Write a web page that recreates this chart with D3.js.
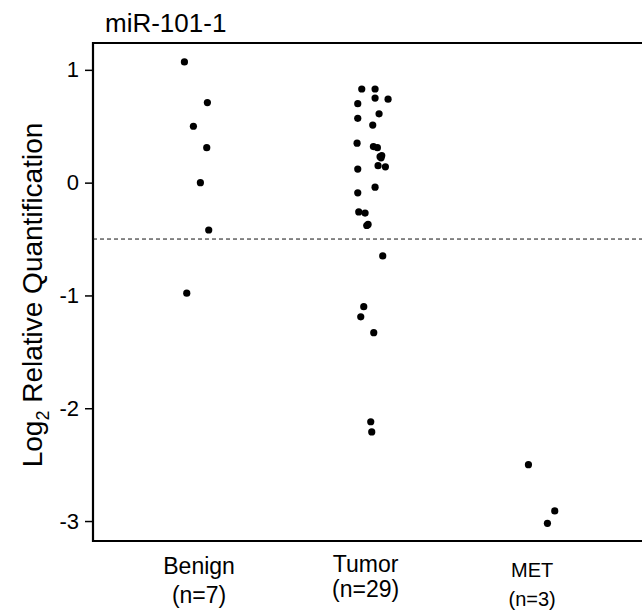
<!DOCTYPE html>
<html>
<head>
<meta charset="utf-8">
<script src="https://cdn.jsdelivr.net/npm/d3@7/dist/d3.min.js"></script>
<style>
  html, body { margin: 0; padding: 0; background: #fff; }
  svg text { font-family: "Liberation Sans", Arial, sans-serif; fill: #000; }
</style>
</head>
<body>
<svg id="chart" width="642" height="614"></svg>
<script>
// ---- data ----
const title = "miR-101-1";
const categories = ["Benign", "Tumor", "MET"];
const categoryCounts = ["(n=7)", "(n=29)", "(n=3)"];
const yTicks = [1, 0, -1, -2, -3];
const yTickLabels = ["1", "0", "-1", "-2", "-3"];
const threshold = -0.5;

// Log2 relative quantification per group; jitter = horizontal position in category units
const benignValues = [1.07, 0.71, 0.50, 0.31, 0.00, -0.42, -0.98];
const benignJitter = [0.912, 1.050, 0.966, 1.046, 1.008, 1.058, 0.926];

const tumorValues = [0.83, 0.83, 0.75, 0.74, 0.70, 0.61, 0.57, 0.51, 0.35, 0.32, 0.31, 0.24, 0.22, 0.15, 0.14, 0.12,
                     -0.04, -0.09, -0.26, -0.27, -0.38, -0.37, -0.65, -1.10, -1.19, -1.33, -2.12, -2.21, 0.23];
const tumorJitter = [1.977, 2.057, 2.057, 2.135, 1.953, 2.081, 1.953, 2.043, 1.949, 2.047, 2.071, 2.097, 2.093, 2.075, 2.119, 1.953,
                     2.057, 1.953, 1.959, 1.997, 2.007, 2.015, 2.103, 1.989, 1.971, 2.049, 2.031, 2.037, 2.087];

const metValues = [-2.50, -2.91, -3.02];
const metJitter = [2.978, 3.136, 3.092];

// ---- layout ----
const svg = d3.select("#chart");
const mLeft = 93, mRight = 642, mTop = 43, mBottom = 541;

const x = d3.scaleLinear().domain([0.363, 3.66]).range([mLeft, mRight]);
const y = d3.scaleLinear().domain([-3.177, 1.238]).range([mBottom, mTop]);

// frame (left, top, bottom; right side runs off the image)
svg.append("path")
  .attr("d", `M${mRight},${mTop}H${mLeft}V${mBottom}H${mRight}`)
  .attr("fill", "none").attr("stroke", "#000").attr("stroke-width", 2.2);

// y axis
const yAxis = d3.axisLeft(y).tickValues(yTicks).tickSize(7).tickPadding(6)
  .tickFormat((d, i) => yTickLabels[i]);
const gy = svg.append("g").attr("transform", `translate(${mLeft - 1},0)`).call(yAxis);
gy.select(".domain").remove();
gy.selectAll(".tick line").attr("stroke", "#000").attr("stroke-width", 1.5);
gy.selectAll(".tick text").attr("font-size", 22).attr("font-family", "Liberation Sans, Arial, sans-serif").attr("fill", "#000");

// threshold dashed line
svg.append("line")
  .attr("x1", mLeft).attr("x2", mRight)
  .attr("y1", y(threshold)).attr("y2", y(threshold))
  .attr("stroke", "#111").attr("stroke-width", 1).attr("stroke-dasharray", "4,3");

// points
const groups = [
  { vals: benignValues, jit: benignJitter },
  { vals: tumorValues, jit: tumorJitter },
  { vals: metValues, jit: metJitter }
];
groups.forEach(g => {
  svg.append("g").selectAll("circle")
    .data(g.vals.map((v, i) => ({ v, j: g.jit[i] })))
    .join("circle")
    .attr("cx", d => x(d.j))
    .attr("cy", d => y(d.v))
    .attr("r", 3.6)
    .attr("fill", "#000");
});

// title
svg.append("text").attr("x", 105).attr("y", 32).attr("font-size", 26).text(title);

// y label
const yl = svg.append("text")
  .attr("transform", `translate(42,295) rotate(-90)`)
  .attr("text-anchor", "middle")
  .attr("font-size", 28);
yl.append("tspan").text("Log");
yl.append("tspan").attr("font-size", 18).attr("dy", 7).text("2");
yl.append("tspan").attr("dy", -7).text(" Relative Quantification");

// category labels
const labelPos = [
  { c: 1, y1: 574, y2: 603, fs: 23 },
  { c: 2, y1: 572, y2: 597, fs: 23 },
  { c: 3, y1: 577, y2: 606, fs: 20 }
];
categories.forEach((cat, i) => {
  const p = labelPos[i];
  const cx = x(p.c);
  svg.append("text").attr("x", cx).attr("y", p.y1).attr("text-anchor", "middle").attr("font-size", p.fs).text(cat);
  svg.append("text").attr("x", cx).attr("y", p.y2).attr("text-anchor", "middle").attr("font-size", p.fs).text(categoryCounts[i]);
});
</script>
</body>
</html>
